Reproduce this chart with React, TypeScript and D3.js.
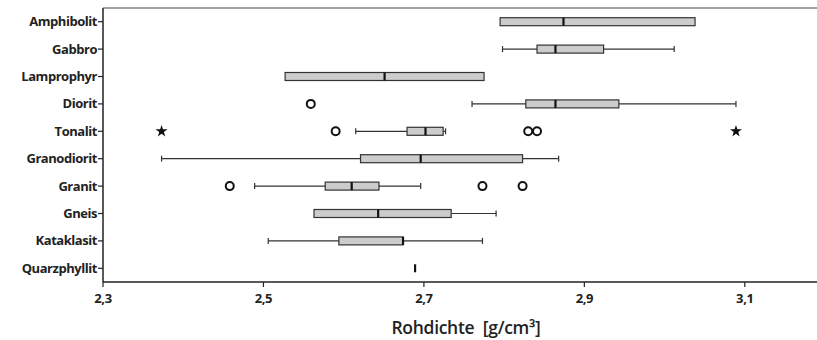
import * as d3 from "d3";

const categories = ["Amphibolit", "Gabbro", "Lamprophyr", "Diorit", "Tonalit", "Granodiorit", "Granit", "Gneis", "Kataklasit", "Quarzphyllit"];
// whisker low, q1, median, q3, whisker high (null = no whisker)
const whiskerLow = [null, 2.798, null, 2.76, 2.615, 2.373, 2.489, null, 2.506, null];
const q1 = [2.795, 2.841, 2.527, 2.827, 2.679, 2.621, 2.577, 2.563, 2.594, 2.689];
const median = [2.874, 2.864, 2.651, 2.864, 2.702, 2.696, 2.61, 2.643, 2.674, 2.689];
const q3 = [3.038, 2.924, 2.775, 2.943, 2.724, 2.823, 2.644, 2.734, 2.674, 2.689];
const whiskerHigh = [null, 3.012, null, 3.089, 2.727, 2.868, 2.696, 2.79, 2.773, null];
const outliers: [string, number][] = [
  ["Diorit", 2.559],
  ["Tonalit", 2.59],
  ["Tonalit", 2.83],
  ["Tonalit", 2.841],
  ["Granit", 2.458],
  ["Granit", 2.773],
  ["Granit", 2.823],
];
const extremes: [string, number][] = [
  ["Tonalit", 2.373],
  ["Tonalit", 3.089],
];
const xTicks = [2.3, 2.5, 2.7, 2.9, 3.1];

const width = 817;
const height = 340;
const margin = { top: 8, right: 0, bottom: 58, left: 103 };
const font = "'Open Sans', sans-serif";

export default function App() {
  const x = d3.scaleLinear().domain([2.3, 3.19]).range([margin.left, width - margin.right]);
  const y = d3
    .scaleBand<string>()
    .domain(categories)
    .range([margin.top, height - margin.bottom]);
  const cy = (c: string) => (y(c) ?? 0) + y.bandwidth() / 2;
  const boxH = 8;
  const stroke = "#333";
  const bottom = height - margin.bottom;

  return (
    <svg width={width} height={height} style={{ position: "absolute", left: 0, top: 0, background: "#fff" }}>
      {/* frame */}
      <line x1={margin.left} x2={width} y1={margin.top} y2={margin.top} stroke="#444" strokeWidth={1.2} />
      <line x1={margin.left} x2={margin.left} y1={margin.top} y2={bottom} stroke="#222" strokeWidth={1.5} />
      <line x1={margin.left} x2={width} y1={bottom} y2={bottom} stroke="#222" strokeWidth={1.5} />

      {/* y ticks + labels */}
      {categories.map((c) => (
        <g key={c}>
          <line x1={margin.left - 5} x2={margin.left} y1={cy(c)} y2={cy(c)} stroke="#222" strokeWidth={1.2} />
          <text
            x={margin.left - 6}
            y={cy(c)}
            dy="0.35em"
            textAnchor="end"
            fontFamily={font}
            fontWeight="bold"
            fontSize={13}
            letterSpacing={-0.45}
            fill="#222"
          >
            {c}
          </text>
        </g>
      ))}

      {/* x ticks + labels */}
      {xTicks.map((t) => (
        <g key={t}>
          <line x1={x(t)} x2={x(t)} y1={bottom} y2={bottom + 5} stroke="#222" strokeWidth={1.2} />
          <text
            x={x(t)}
            y={bottom + 21}
            textAnchor="middle"
            fontFamily={font}
            fontWeight="bold"
            fontSize={13}
            letterSpacing={-0.4}
            fill="#222"
          >
            {String(t.toFixed(1)).replace(".", ",")}
          </text>
        </g>
      ))}
      <text
        x={466}
        y={height - 6}
        textAnchor="middle"
        fontFamily={font}
        fontWeight={600}
        fontSize={17.5}
        letterSpacing={-0.3}
        fill="#222"
      >
        Rohdichte {"\u00a0"}[g/cm³]
      </text>

      {/* boxes */}
      {categories.map((c, i) => {
        const yc = cy(c);
        const lo = whiskerLow[i];
        const hi = whiskerHigh[i];
        return (
          <g key={c}>
            {lo !== null && (
              <>
                <line x1={x(lo)} x2={x(q1[i])} y1={yc} y2={yc} stroke={stroke} strokeWidth={1.2} />
                <line x1={x(lo)} x2={x(lo)} y1={yc - 3} y2={yc + 3} stroke={stroke} strokeWidth={1.2} />
              </>
            )}
            {hi !== null && (
              <>
                <line x1={x(q3[i])} x2={x(hi)} y1={yc} y2={yc} stroke={stroke} strokeWidth={1.2} />
                <line x1={x(hi)} x2={x(hi)} y1={yc - 3} y2={yc + 3} stroke={stroke} strokeWidth={1.2} />
              </>
            )}
            {q3[i] > q1[i] && (
              <rect
                x={x(q1[i])}
                y={yc - boxH / 2}
                width={x(q3[i]) - x(q1[i])}
                height={boxH}
                fill="#cccccc"
                stroke={stroke}
                strokeWidth={1.2}
              />
            )}
            <line x1={x(median[i])} x2={x(median[i])} y1={yc - boxH / 2} y2={yc + boxH / 2} stroke="#111" strokeWidth={2.2} />
          </g>
        );
      })}

      {/* outliers */}
      {outliers.map(([c, v], i) => (
        <circle key={i} cx={x(v)} cy={cy(c)} r={4} fill="none" stroke="#111" strokeWidth={2} />
      ))}
      {extremes.map(([c, v], i) => (
        <path
          key={i}
          transform={`translate(${x(v)},${cy(c)})`}
          d={d3.symbol(d3.symbolStar, 45)() ?? ""}
          fill="#111"
        />
      ))}
    </svg>
  );
}
